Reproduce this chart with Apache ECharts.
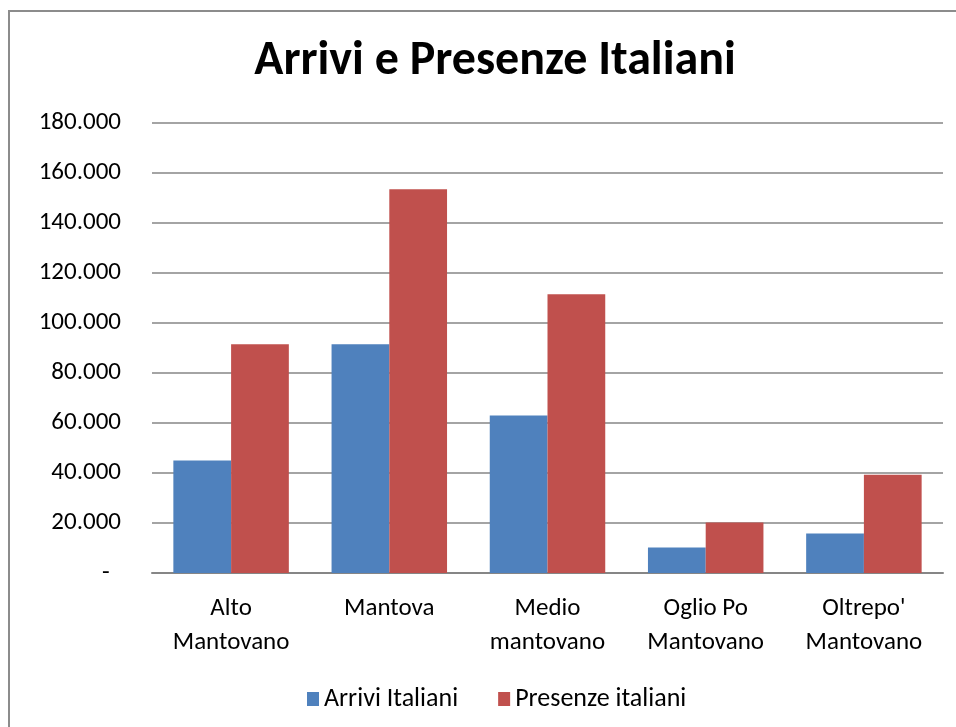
<!DOCTYPE html>
<html>
<head>
<meta charset="utf-8">
<script src="https://cdn.jsdelivr.net/npm/echarts@6/dist/echarts.min.js"></script>
<style>
  html, body { margin: 0; padding: 0; background: #fff; }
  #chart-container { width: 956px; height: 727px; }
</style>
</head>
<body>
<div id="chart-container"></div>
<script>
var categories = ['Alto\nMantovano', 'Mantova', 'Medio\nmantovano', 'Oglio Po\nMantovano', "Oltrepo'\nMantovano"];
var arriviItaliani = [45000, 91500, 63000, 10200, 15800];
var presenzeItaliani = [91500, 153500, 111500, 20200, 39300];
var yTicks = [0, 20000, 40000, 60000, 80000, 100000, 120000, 140000, 160000, 180000];

var dom = document.getElementById('chart-container');
var myChart = echarts.init(dom, null, { renderer: 'canvas' });
var font = 'Carlito, Lato, sans-serif';

function fmt(v) {
  if (v === 0) return '-  ';
  return String(v).replace(/\B(?=(\d{3})+(?!\d))/g, '.');
}

var option = {
  backgroundColor: '#fff',
  animation: false,
  graphic: [{
    type: 'rect',
    shape: { x: 9, y: 11, width: 1000, height: 800 },
    style: { fill: 'none', stroke: '#8c8c8c', lineWidth: 2 }
  }],
  title: {
    text: 'Arrivi e Presenze Italiani',
    left: 490,
    textAlign: 'center',
    top: 33,
    textStyle: { fontFamily: font, fontSize: 48, fontWeight: 'bold', color: '#000' }
  },
  legend: {
    bottom: 10,
    left: 302,
    itemWidth: 12,
    itemHeight: 14,
    itemGap: 40,
    icon: 'rect',
    textStyle: { fontFamily: font, fontSize: 26, color: '#000' },
    data: ['Arrivi Italiani', 'Presenze italiani']
  },
  grid: { left: 152, right: 13, top: 123, bottom: 154 },
  xAxis: {
    type: 'category',
    data: categories,
    axisTick: { show: false },
    axisLine: { lineStyle: { color: '#868686', width: 2 } },
    axisLabel: { fontFamily: font, fontSize: 25, color: '#000', margin: 19, lineHeight: 34 }
  },
  yAxis: {
    type: 'value',
    min: yTicks[0],
    max: yTicks[yTicks.length - 1],
    interval: yTicks[1] - yTicks[0],
    axisLine: { show: false },
    axisTick: { show: false },
    splitLine: { lineStyle: { color: '#868686', width: 1.5 } },
    axisLabel: { fontFamily: font, fontSize: 25, color: '#000', margin: 31, formatter: fmt }
  },
  series: [
    {
      name: 'Arrivi Italiani',
      type: 'bar',
      data: arriviItaliani,
      barGap: '0%',
      barCategoryGap: '27%',
      itemStyle: { color: '#4f81bd' }
    },
    {
      name: 'Presenze italiani',
      type: 'bar',
      data: presenzeItaliani,
      barGap: '0%',
      barCategoryGap: '27%',
      itemStyle: { color: '#c0504d' }
    }
  ]
};

myChart.setOption(option);
window.addEventListener('resize', myChart.resize);
</script>
</body>
</html>
